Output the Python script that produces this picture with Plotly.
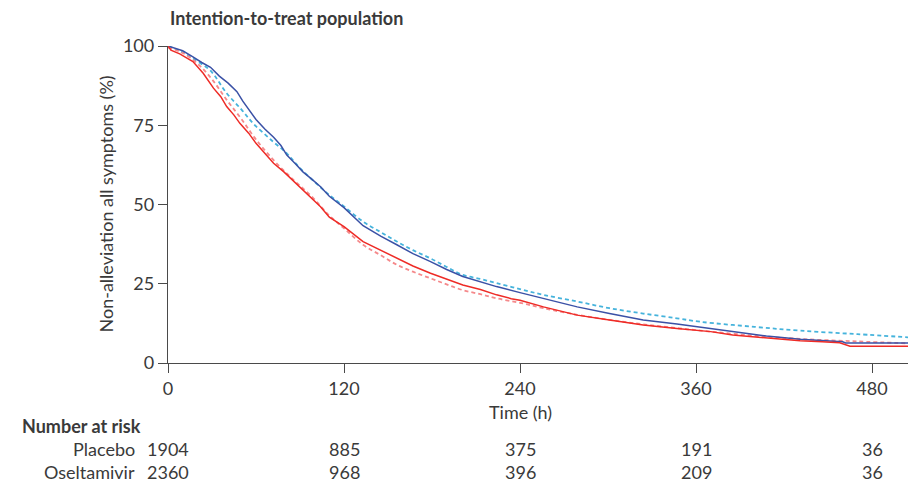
import plotly.graph_objects as go

# ---- Data ----
placebo_km_t = [0, 5, 10, 17, 23, 29, 35, 41, 47, 51, 56, 60, 66, 72, 77, 81, 87, 92, 98, 104,
                110, 115, 120, 133, 145, 156, 167, 179, 190, 201, 213, 224, 240, 256, 279, 301,
                324, 347, 370, 385, 408, 431, 446, 460, 462, 480, 505]
placebo_km_y = [100, 99.3, 98.5, 96.6, 94.8, 93.3, 90.5, 88.3, 85.6, 82.6, 79.5, 76.8, 73.8, 71.2,
                68.6, 65.6, 62.8, 60.3, 58.0, 55.6, 52.6, 50.7, 49.0, 43.3, 40.0, 37.3, 34.5, 32.0,
                29.5, 27.3, 25.6, 24.1, 22.2, 20.4, 17.7, 15.6, 13.6, 12.3, 10.9, 9.9, 8.5, 7.5,
                7.1, 6.7, 6.3, 6.3, 6.3]

osel_km_t = [0, 2, 8, 17, 24, 31, 36, 40, 45, 49, 55, 60, 66, 72, 79, 85, 92, 98, 104, 110, 120,
             133, 145, 156, 167, 179, 190, 201, 213, 224, 234, 240, 256, 279, 301, 324, 347, 370,
             385, 408, 431, 446, 458, 465, 480, 505]
osel_km_y = [100, 98.7, 97.5, 95.1, 91.4, 86.7, 84.0, 80.9, 78.2, 75.6, 72.5, 69.3, 66.2, 63.0,
             60.3, 57.7, 54.8, 52.0, 49.3, 46.0, 43.0, 38.3, 35.5, 33.0, 30.6, 28.3, 26.4, 24.6,
             23.2, 21.5, 20.3, 19.8, 17.7, 15.1, 13.6, 12.0, 10.9, 9.9, 8.8, 7.8, 7.0, 6.7, 6.4,
             5.3, 5.3, 5.3]

placebo_fit_t = [0, 10, 20, 29, 40, 50, 58, 70, 81, 90, 101, 110, 120, 133, 145, 156, 167, 179,
                 190, 201, 213, 224, 240, 256, 279, 301, 324, 347, 363, 400, 431, 470, 505]
placebo_fit_y = [100, 98.0, 95.2, 92.2, 85.1, 80.0, 75.6, 70.5, 66.1, 61.5, 56.7, 53.0, 49.4,
                 44.6, 41.3, 38.3, 35.6, 33.0, 30.3, 27.8, 26.5, 25.2, 23.3, 21.5, 19.4, 17.3,
                 15.6, 14.1, 13.0, 11.4, 10.2, 9.1, 8.1]

osel_fit_t = [0, 10, 20, 30, 40, 50, 60, 72, 85, 98, 110, 120, 133, 145, 156, 167, 179, 190,
              201, 213, 224, 240, 256, 279, 301, 324, 347, 370, 400, 431, 470, 505]
osel_fit_y = [99.5, 97.8, 94.5, 89.5, 83.0, 77.0, 70.5, 64.0, 58.0, 52.5, 46.5, 42.5, 37.3,
              34.0, 31.0, 28.8, 26.7, 24.8, 23.0, 21.7, 20.4, 19.0, 17.3, 15.2, 13.6, 12.2,
              11.0, 9.9, 8.6, 7.6, 6.8, 6.2]

x_ticks = [0, 120, 240, 360, 480]
y_ticks = [0, 25, 50, 75, 100]
risk_groups = ["Placebo", "Oseltamivir"]
risk_placebo = [1904, 885, 375, 191, 36]
risk_oseltamivir = [2360, 968, 396, 209, 36]

FONT = "Lato, 'Open Sans', sans-serif"
TXT = "#3a3a3a"
AX = "#4a4a4a"
FS = 18

# page body has an 8px margin; figure coordinates are screen coordinates minus 8
OFF = 8
W, H = 916 - 2 * OFF, 484 - OFF              # 900 x 476 (reaches bottom of window)
L, T = 168 - OFF, 46 - OFF                   # plot area origin (screen 168, 46)
PW, PH = W - L, 317                          # plot area reaches right edge of figure
X_END = PW / (704 / 480)                     # keep 0..480 at screen 168..872


def py_paper(screen_y):
    return (363 - screen_y) / PH


def px_paper(screen_x):
    return (screen_x - 168) / PW


fig = go.Figure()
fig.add_trace(go.Scatter(x=placebo_fit_t, y=placebo_fit_y, mode="lines", line_shape="spline",
                         line=dict(color="#45b3dc", width=1.8, dash="4px,3px"), hoverinfo="skip"))
fig.add_trace(go.Scatter(x=osel_fit_t, y=osel_fit_y, mode="lines", line_shape="spline",
                         line=dict(color="#f5898b", width=1.8, dash="4px,3px"), hoverinfo="skip"))
fig.add_trace(go.Scatter(x=placebo_km_t, y=placebo_km_y, mode="lines",
                         line=dict(color="#3a51a6", width=1.5)))
fig.add_trace(go.Scatter(x=osel_km_t, y=osel_km_y, mode="lines",
                         line=dict(color="#ee2b26", width=1.5)))

fig.update_layout(
    width=W, height=H,
    margin=dict(l=L, r=0, t=T, b=H - T - PH, pad=0),
    paper_bgcolor="white", plot_bgcolor="white",
    showlegend=False,
    font=dict(family=FONT, size=FS, color=TXT),
    xaxis=dict(range=[0, X_END], tickvals=x_ticks, ticks="outside", ticklen=9, tickwidth=1.2,
               tickcolor=AX, showline=True, linecolor=AX, linewidth=1.3, showgrid=False,
               zeroline=False, tickfont=dict(size=FS, color=TXT)),
    yaxis=dict(range=[0, 100], tickvals=y_ticks, ticks="outside", ticklen=9, tickwidth=1.2,
               tickcolor=AX, showline=True, linecolor=AX, linewidth=1.3, showgrid=False,
               zeroline=False, tickfont=dict(size=FS, color=TXT)),
)

ann = []
ann.append(dict(text="<b>Intention-to-treat population</b>", xref="paper", yref="paper",
                x=0, y=py_paper(18), xanchor="left", yanchor="middle", showarrow=False,
                font=dict(size=FS, color=TXT)))
ann.append(dict(text="Non-alleviation all symptoms (%)", xref="paper", yref="paper",
                x=px_paper(105), y=0.5, textangle=-90, xanchor="center", yanchor="middle",
                showarrow=False, font=dict(size=FS, color=TXT)))
ann.append(dict(text="Time (h)", xref="x", yref="paper", x=240, y=py_paper(412),
                xanchor="center", yanchor="middle", showarrow=False, font=dict(size=FS, color=TXT)))
ann.append(dict(text="<b>Number at risk</b>", xref="paper", yref="paper",
                x=px_paper(20), y=py_paper(426), xanchor="left", yanchor="middle",
                showarrow=False, font=dict(size=FS, color=TXT)))
for grp, vals, sy in [(risk_groups[0], risk_placebo, 449), (risk_groups[1], risk_oseltamivir, 472)]:
    ann.append(dict(text=grp, xref="paper", yref="paper", x=px_paper(137),
                    y=py_paper(sy), xanchor="right", yanchor="middle", showarrow=False,
                    font=dict(size=FS, color=TXT)))
    for t, v in zip(x_ticks, vals):
        ann.append(dict(text=str(v), xref="x", yref="paper", x=t, y=py_paper(sy),
                        xanchor="center", yanchor="middle", showarrow=False,
                        font=dict(size=FS, color=TXT)))
fig.update_layout(annotations=ann)

fig.write_html("out.html")
